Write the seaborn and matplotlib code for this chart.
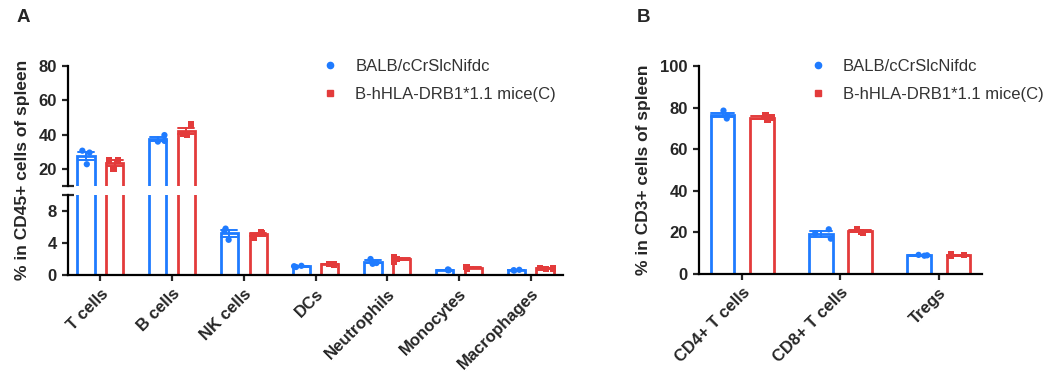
import numpy as np
import pandas as pd
import matplotlib
matplotlib.use("Agg")
import matplotlib.pyplot as plt
import seaborn as sns
from matplotlib.lines import Line2D

# -------------------------------
# Data
# -------------------------------
groups = ["BALB/cCrSlcNifdc", "B-hHLA-DRB1*1.1 mice(C)"]
colors = ["#1F7BFF", "#E33B3B"]
markers = ["o", "s"]

cells_a = ["T cells", "B cells", "NK cells", "DCs", "Neutrophils", "Monocytes", "Macrophages"]
balb_a = [[22.7, 29.5, 30.6], [35.9, 39.7, 36.3], [5.8, 4.4, 5.5], [1.0, 1.15, 1.1],
          [1.4, 2.0, 1.5], [0.6, 0.7, 0.6], [0.55, 0.65, 0.6]]
hla_a = [[25.2, 20.0, 25.2], [39.9, 45.9, 40.5], [4.7, 5.2, 5.3], [1.3, 1.4, 1.35],
         [1.7, 2.2, 2.0], [0.8, 1.0, 0.85], [0.75, 0.9, 0.8]]

cells_b = ["CD4+ T cells", "CD8+ T cells", "Tregs"]
balb_b = [[74.8, 78.6, 76.2], [19.5, 17.0, 21.5], [8.8, 9.2, 9.0]]
hla_b = [[73.9, 76.2, 75.3], [19.8, 21.5, 20.3], [8.8, 9.5, 9.0]]


def to_long(cells, a, b):
    rows = []
    for g, vals in zip(groups, [a, b]):
        for c, reps in zip(cells, vals):
            for v in reps:
                rows.append({"cell": c, "group": g, "value": v})
    return pd.DataFrame(rows)


df_a = to_long(cells_a, balb_a, hla_a)
df_b = to_long(cells_b, balb_b, hla_b)
palette = dict(zip(groups, colors))

# -------------------------------
# Style
# -------------------------------
sns.set_style("ticks")
plt.rcParams["font.family"] = ["Liberation Sans", "DejaVu Sans"]
plt.rcParams["axes.linewidth"] = 1.6
plt.rcParams["xtick.major.width"] = 1.6
plt.rcParams["ytick.major.width"] = 1.6
plt.rcParams["xtick.major.size"] = 4.5
plt.rcParams["ytick.major.size"] = 4.5
plt.rcParams["axes.edgecolor"] = "black"

np.random.seed(3)

fig = plt.figure(figsize=(10.51, 3.85), dpi=100)
ax_top = fig.add_axes([0.0647, 0.5169, 0.471, 0.3117])
ax_bot = fig.add_axes([0.0647, 0.2857, 0.471, 0.2078])
ax_b = fig.add_axes([0.665, 0.2883, 0.2693, 0.540])


def draw(ax, df, cells):
    sns.barplot(data=df, x="cell", y="value", hue="group", order=cells, hue_order=groups,
                palette=palette, fill=False, gap=0.4, linewidth=2, errorbar="se",
                capsize=0.45, err_kws={"linewidth": 1.4}, legend=False, ax=ax)
    for g, m in zip(groups, markers):
        sns.stripplot(data=df[df.group == g], x="cell", y="value", hue="group", order=cells,
                      hue_order=groups, palette=palette, dodge=True, jitter=0.24, marker=m,
                      size=4.5, linewidth=0, legend=False, ax=ax)
    ax.set_xlabel("")
    ax.set_ylabel("")


tick_font = {"fontsize": 12, "fontweight": "bold"}

# -------------------------------
# Panel A (broken y axis)
# -------------------------------
for ax in (ax_top, ax_bot):
    draw(ax, df_a, cells_a)
    ax.set_xlim(-0.45, 6.45)
    ax.set_yticks([10], minor=True)
    ax.tick_params(axis="y", which="minor", direction="inout", length=9, width=1.6)

ax_top.set_ylim(10, 80)
ax_top.set_yticks([20, 40, 60, 80])
ax_top.set_yticklabels(["20", "40", "60", "80"], **tick_font)
ax_top.set_xticks([])
sns.despine(ax=ax_top, bottom=True)

ax_bot.set_ylim(0, 10)
ax_bot.set_yticks([0, 4, 8])
ax_bot.set_yticklabels(["0", "4", "8"], **tick_font)
ax_bot.set_xticks(range(len(cells_a)))
ax_bot.set_xticklabels(cells_a, rotation=45, ha="right", rotation_mode="anchor", **tick_font)
sns.despine(ax=ax_bot)

fig.text(0.021, 0.56, "% in CD45+ cells of spleen", rotation=90, ha="center", va="center",
         fontsize=12.5, fontweight="bold")

# -------------------------------
# Panel B
# -------------------------------
draw(ax_b, df_b, cells_b)
ax_b.set_xlim(-0.44, 2.44)
ax_b.set_ylim(0, 100)
ax_b.set_yticks(range(0, 101, 20))
ax_b.set_yticklabels([str(v) for v in range(0, 101, 20)], **tick_font)
ax_b.set_xticks(range(len(cells_b)))
ax_b.set_xticklabels(cells_b, rotation=45, ha="right", rotation_mode="anchor", **tick_font)
sns.despine(ax=ax_b)
fig.text(0.612, 0.56, "% in CD3+ cells of spleen", rotation=90, ha="center", va="center",
         fontsize=12.5, fontweight="bold")

# -------------------------------
# Legends and panel letters
# -------------------------------
handles = [Line2D([], [], linestyle="", marker=m, color=c, markersize=4.5)
           for m, c in zip(markers, colors)]
for x0 in (0.292, 0.756):
    fig.legend(handles, groups, loc="upper left", bbox_to_anchor=(x0, 0.885), frameon=False,
               fontsize=12, labelcolor="#333333", handletextpad=1.0, labelspacing=0.75,
               handlelength=1.0)

fig.text(0.016, 0.955, "A", fontsize=13.5, fontweight="bold", va="center")
fig.text(0.606, 0.955, "B", fontsize=13.5, fontweight="bold", va="center")

plt.savefig("out.png", dpi=100)
